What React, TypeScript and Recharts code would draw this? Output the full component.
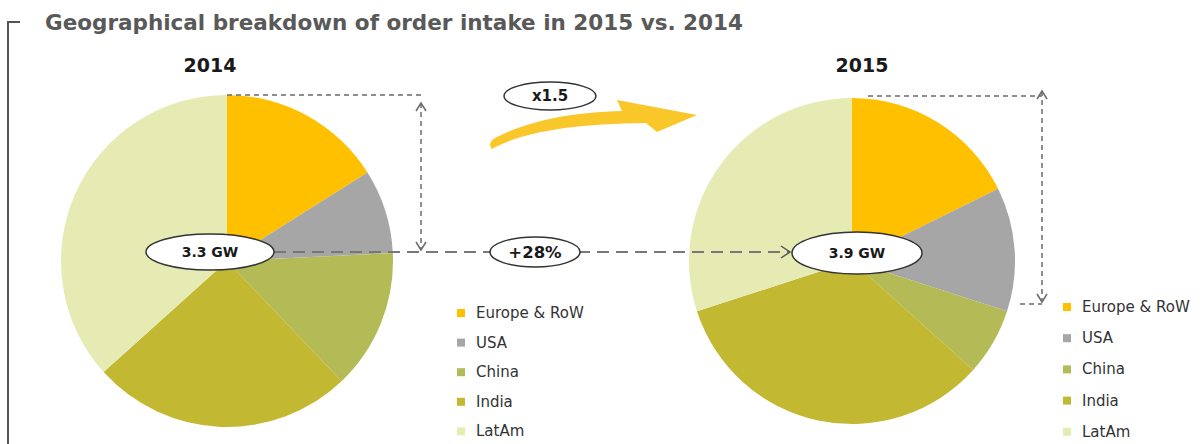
import React from "react";
import { Cell, Pie, PieChart } from "recharts";

// order intake by region, GW
const regions = ["Europe & RoW", "USA", "China", "India", "LatAm"];
const colors = ["#FFC000", "#A6A6A6", "#B4BA55", "#C3B832", "#E5EBB3"];
const intake2014 = [0.53, 0.27, 0.45, 0.84, 1.21];
const intake2015 = [0.69, 0.48, 0.26, 1.3, 1.17];
const years = ["2014", "2015"];
const totals = ["3.3 GW", "3.9 GW"];

const W = 1202;
const H = 444;

const toRows = (vals: number[]) => regions.map((name, i) => ({ name, value: vals[i] }));

const grey = "#6b6b6b";

function Legend({ x, y, step }: { x: number; y: number; step: number }) {
  return (
    <g>
      {regions.map((r, i) => (
        <g key={r}>
          <rect x={x} y={y + i * step - 4} width={8} height={8} fill={colors[i]} />
          <text x={x + 19} y={y + i * step + 5} fontSize={15} fill="#333" fontFamily="DejaVu Sans">
            {r}
          </text>
        </g>
      ))}
    </g>
  );
}

function Overlay() {
  return (
    <svg width={W} height={H} style={{ position: "absolute", left: 0, top: 0 }}>
      {/* frame bracket */}
      <polyline points="20,22 8,22 8,444" fill="none" stroke="#555" strokeWidth={2} />
      <text x={45} y={30} fontSize={21.5} fontWeight="bold" fill="#595959" fontFamily="DejaVu Sans">
        Geographical breakdown of order intake in 2015 vs. 2014
      </text>
      <text x={210} y={72} textAnchor="middle" fontSize={19} fontWeight="bold" fill="#1a1a1a" fontFamily="DejaVu Sans">
        {years[0]}
      </text>
      <text x={862} y={72} textAnchor="middle" fontSize={19} fontWeight="bold" fill="#1a1a1a" fontFamily="DejaVu Sans">
        {years[1]}
      </text>

      {/* left bracket */}
      <line x1={227} y1={95} x2={421} y2={95} stroke={grey} strokeWidth={1.5} strokeDasharray="5 4" />
      <line x1={421} y1={103} x2={421} y2={250} stroke={grey} strokeWidth={1.5} strokeDasharray="5 4" />
      <polyline points="416,111 421,103 426,111" fill="none" stroke={grey} strokeWidth={1.5} />
      <polyline points="416,242 421,250 426,242" fill="none" stroke={grey} strokeWidth={1.5} />

      {/* right bracket */}
      <line x1={868} y1={96} x2={1042} y2={96} stroke={grey} strokeWidth={1.5} strokeDasharray="5 4" />
      <line x1={1042} y1={91} x2={1042} y2={302} stroke={grey} strokeWidth={1.5} strokeDasharray="5 4" />
      <line x1={1020} y1={304} x2={1042} y2={304} stroke={grey} strokeWidth={1.5} strokeDasharray="5 4" />
      <polyline points="1037,99 1042,91 1047,99" fill="none" stroke={grey} strokeWidth={1.5} />
      <polyline points="1037,294 1042,302 1047,294" fill="none" stroke={grey} strokeWidth={1.5} />

      {/* growth line */}
      <line x1={274} y1={252} x2={789} y2={252} stroke="#777" strokeWidth={2} strokeDasharray="12 7" />
      <polyline points="781,246 790,252 781,258" fill="none" stroke="#555" strokeWidth={1.5} />

      {/* yellow arrow */}
      <path
        d="M 492,149 C 522,132 572,124 646,123 L 657,132 L 697,115 L 617,100 L 622,111 C 570,112 525,122 495,138 Q 487,143 492,149 Z"
        fill="#FAC72B"
      />

      <ellipse cx={550} cy={96} rx={46} ry={14} fill="#fff" stroke="#333" strokeWidth={1.5} />
      <text x={550} y={101} textAnchor="middle" fontSize={15} fontWeight="bold" fill="#1a1a1a" fontFamily="DejaVu Sans">
        x1.5
      </text>
      <ellipse cx={535} cy={252} rx={45} ry={15} fill="#fff" stroke="#333" strokeWidth={1.5} />
      <text x={535} y={258} textAnchor="middle" fontSize={16.5} fontWeight="bold" fill="#1a1a1a" fontFamily="DejaVu Sans">
        +28%
      </text>

      <ellipse cx={210} cy={252} rx={64} ry={18} fill="#fff" stroke="#333" strokeWidth={1.5} />
      <text x={210} y={257} textAnchor="middle" fontSize={14} fontWeight="bold" fill="#1a1a1a" fontFamily="DejaVu Sans">
        {totals[0]}
      </text>
      <ellipse cx={857} cy={253} rx={65} ry={21} fill="#fff" stroke="#333" strokeWidth={1.5} />
      <text x={857} y={258} textAnchor="middle" fontSize={14} fontWeight="bold" fill="#1a1a1a" fontFamily="DejaVu Sans">
        {totals[1]}
      </text>

      <Legend x={457} y={313} step={29.6} />
      <Legend x={1063} y={307} step={31.2} />
    </svg>
  );
}

export default function App() {
  return (
    <div style={{ position: "absolute", left: 0, top: 0, width: W, height: H, background: "#fff" }}>
      <PieChart width={W} height={H} margin={{ top: 0, right: 0, bottom: 0, left: 0 }}>
        <Pie
          data={toRows(intake2014)}
          dataKey="value"
          cx={227}
          cy={261}
          outerRadius={166}
          startAngle={90}
          endAngle={-270}
          stroke="none"
          isAnimationActive={false}
        >
          {regions.map((r, i) => (
            <Cell key={r} fill={colors[i]} />
          ))}
        </Pie>
        <Pie
          data={toRows(intake2015)}
          dataKey="value"
          cx={852}
          cy={261}
          outerRadius={163}
          startAngle={90}
          endAngle={-270}
          stroke="none"
          isAnimationActive={false}
        >
          {regions.map((r, i) => (
            <Cell key={r} fill={colors[i]} />
          ))}
        </Pie>
      </PieChart>
      <Overlay />
    </div>
  );
}
